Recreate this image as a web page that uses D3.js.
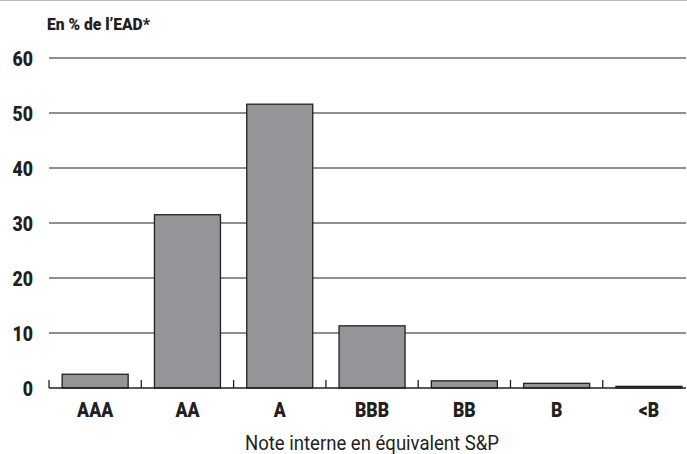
<!DOCTYPE html>
<html>
<head>
<meta charset="utf-8">
<script src="https://cdn.jsdelivr.net/npm/d3@7"></script>
<style>
  body { margin: 0; background: #fff; }
  text { font-family: Roboto, "DejaVu Sans Condensed", sans-serif; fill: #231f20; }
  .tick-lbl { font-weight: 900; font-size: 21px; }
</style>
</head>
<body>
<script>
// categories and values
var categories = ['AAA', 'AA', 'A', 'BBB', 'BB', 'B', '<B'];
var values = [2.5, 31.5, 51.6, 11.3, 1.3, 0.85, 0.3];
var yTicks = [0, 10, 20, 30, 40, 50, 60];

var svgWidth = 687;
var svgHeight = 454;
var svg = d3.select('body')
  .append('svg')
  .attr('width', svgWidth)
  .attr('height', svgHeight);

var left = 49;
var right = 686;
var bandStep = 92.3;

// squeeze a text horizontally to mimic the condensed face of the source
function condense(sel, factor) {
  sel.each(function () {
    var w = this.getComputedTextLength();
    d3.select(this)
      .attr('textLength', w * factor)
      .attr('lengthAdjust', 'spacingAndGlyphs');
  });
}

// X Scale (bands, the last one runs off the page like in the source)
var x = d3.scaleBand()
  .domain(categories)
  .range([left, left + bandStep * categories.length])
  .padding(0);

// Y Scale
var y = d3.scaleLinear()
  .domain([0, 60])
  .range([388, 58]);

// thin gray rule at the very top
svg.append('line')
  .attr('x1', 0).attr('x2', svgWidth)
  .attr('y1', 0.5).attr('y2', 0.5)
  .attr('stroke', '#bdbdbd')
  .attr('stroke-width', 1);

// gridlines
svg.append('g')
  .selectAll('line')
  .data(yTicks.filter(function (d) { return d > 0; }))
  .enter()
  .append('line')
  .attr('x1', left)
  .attr('x2', right)
  .attr('y1', function (d) { return y(d); })
  .attr('y2', function (d) { return y(d); })
  .attr('stroke', '#231f20')
  .attr('stroke-width', 1.1);

// y labels
svg.append('g')
  .selectAll('text')
  .data(yTicks)
  .enter()
  .append('text')
  .attr('class', 'tick-lbl')
  .attr('x', 33)
  .attr('y', function (d) { return y(d) + 8; })
  .attr('text-anchor', 'end')
  .text(function (d) { return d; })
  .call(condense, 0.84);

// bars
var bw = x.bandwidth();
var barW = bw * 0.715;
svg.append('g')
  .selectAll('rect')
  .data(values)
  .enter()
  .append('rect')
  .attr('x', function (d, i) { return x(categories[i]) + (bw - barW) / 2; })
  .attr('y', function (d) { return y(d); })
  .attr('width', barW)
  .attr('height', function (d) { return y(0) - y(d); })
  .attr('fill', '#939598')
  .attr('stroke', '#231f20')
  .attr('stroke-width', 1.3);

// x axis line and boundary ticks
var axis = svg.append('g');
axis.append('line')
  .attr('x1', left).attr('x2', right)
  .attr('y1', y(0)).attr('y2', y(0))
  .attr('stroke', '#231f20')
  .attr('stroke-width', 1.3);

axis.selectAll('.bt')
  .data(categories)
  .enter()
  .append('line')
  .attr('class', 'bt')
  .attr('x1', function (d) { return x(d); })
  .attr('x2', function (d) { return x(d); })
  .attr('y1', y(0))
  .attr('y2', y(0) - 8)
  .attr('stroke', '#231f20')
  .attr('stroke-width', 1.3);

// x labels
axis.selectAll('text')
  .data(categories)
  .enter()
  .append('text')
  .attr('class', 'tick-lbl')
  .attr('x', function (d) { return x(d) + bw / 2; })
  .attr('y', 417)
  .attr('text-anchor', 'middle')
  .text(function (d) { return d; })
  .call(condense, 0.84);

// unit label
svg.append('text')
  .attr('x', 47)
  .attr('y', 30)
  .attr('font-size', 17)
  .attr('font-weight', 900)
  .attr('textLength', 103)
  .attr('lengthAdjust', 'spacingAndGlyphs')
  .text('En % de l\u2019EAD*');

// x title
svg.append('text')
  .attr('x', 245)
  .attr('y', 450)
  .attr('font-size', 20)
  .attr('textLength', 254)
  .attr('lengthAdjust', 'spacingAndGlyphs')
  .text('Note interne en \u00e9quivalent S&P');
</script>
</body>
</html>
